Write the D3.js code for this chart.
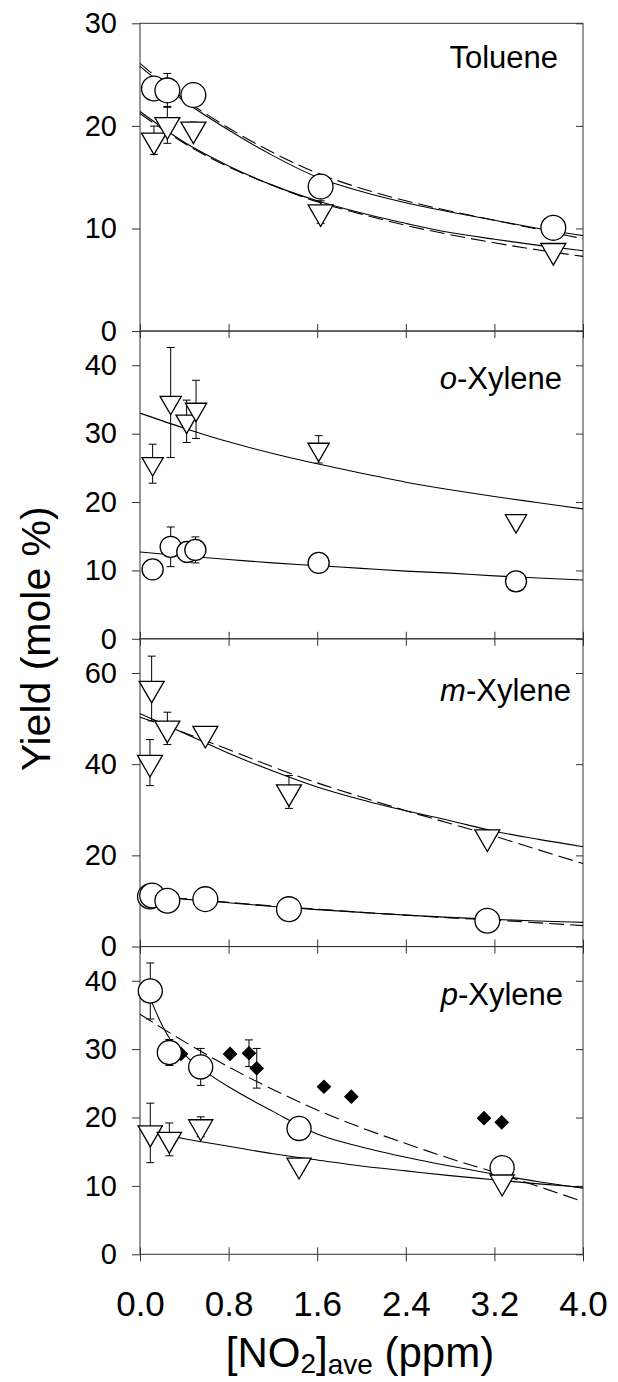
<!DOCTYPE html>
<html>
<head>
<meta charset="utf-8">
<script src="https://cdn.jsdelivr.net/npm/d3@7"></script>
<style>
body { margin: 0; background: #fff; }
text { font-family: "Liberation Sans", Arial, sans-serif; fill: #000; }
</style>
</head>
<body>
<div id="wrapper"></div>
<script>
// ---- data ----
const xTickValues = [0, 0.8, 1.6, 2.4, 3.2, 4.0];
const panelItalic = ['', 'o', 'm', 'p'];
const panelRest = ['Toluene', '-Xylene', '-Xylene', '-Xylene'];
const panelYMax = [30, 45, 67.5, 45];
const panelYTicks = [[0, 10, 20, 30], [0, 10, 20, 30, 40], [0, 20, 40, 60], [0, 10, 20, 30, 40]];
const fitX = [0, 0.4, 0.8, 1.2, 1.6, 2.0, 2.4, 2.8, 3.2, 3.6, 4.0];

// Toluene
const tolCircX = [0.126, 0.247, 0.482, 1.631, 3.732];
const tolCircY = [23.65, 23.46, 23.0, 14.08, 10.06];
const tolCircErr = [0, 1.65, 0, 0, 0];
const tolTriX = [0.126, 0.247, 0.482, 1.631, 3.732];
const tolTriY = [18.6, 20.1, 19.67, 11.6, 7.83];
const tolTriErr = [1.38, 1.8, 0.7, 1.1, 0];
const tolCircFit = [25.8, 22.4, 19.6, 17.1, 15.0, 13.6, 12.5, 11.6, 10.8, 10.0, 9.3];
const tolCircFitDash = [26.1, 22.6, 19.8, 17.4, 15.4, 13.9, 12.7, 11.7, 10.8, 9.9, 9.0];
const tolTriFit = [21.4, 18.4, 16.1, 14.2, 12.7, 11.5, 10.5, 9.6, 8.95, 8.35, 7.83];
const tolTriFitDash = [21.2, 18.3, 16.0, 14.2, 12.6, 11.4, 10.3, 9.4, 8.6, 7.9, 7.28];

// o-Xylene
const oxyCircX = [0.114, 0.277, 0.427, 0.5, 1.613, 3.395];
const oxyCircY = [10.15, 13.45, 12.7, 13.0, 11.1, 8.4];
const oxyCircErr = [0, 2.9, 1.5, 1.9, 0, 0];
const oxyTriX = [0.114, 0.277, 0.421, 0.506, 1.613, 3.395];
const oxyTriY = [25.6, 34.55, 31.8, 33.55, 27.7, 17.25];
const oxyTriErr = [2.85, 8.05, 3.1, 4.25, 2.0, 0];
const oxyTriFit = [33.0, 30.8, 28.8, 27.1, 25.6, 24.2, 22.9, 21.8, 20.8, 19.9, 19.0];
const oxyCircFit = [12.7, 12.1, 11.6, 11.1, 10.7, 10.3, 9.9, 9.6, 9.2, 8.9, 8.6];

// m-Xylene
const mxyCircX = [0.09, 0.11, 0.247, 0.59, 1.345, 3.136];
const mxyCircY = [11.0, 11.2, 10.05, 10.4, 8.2, 5.65];
const mxyCircErr = [0, 0, 0, 0, 0, 0];
const mxyTriX = [0.105, 0.09, 0.247, 0.59, 1.345, 3.136];
const mxyTriY = [56.6, 40.35, 47.85, 46.7, 33.9, 24.0];
const mxyTriErr = [7.1, 5.05, 3.55, 0, 3.6, 0];
const mxyTriFit = [51.1, 46.8, 42.4, 38.5, 35.0, 32.2, 29.8, 27.6, 25.3, 23.5, 21.9];
const mxyTriFitDash = [50.3, 46.9, 43.2, 39.4, 35.9, 32.8, 29.8, 27.0, 24.2, 21.2, 18.2];
const mxyCircFitX = [0.1, 0.4, 0.8, 1.2, 1.6, 2.0, 2.4, 2.8, 3.2, 3.6, 4.0];
const mxyCircFit = [11.0, 10.4, 9.6, 8.8, 8.1, 7.5, 6.9, 6.4, 5.95, 5.6, 5.3];
const mxyCircFitDash = [11.1, 10.5, 9.7, 8.9, 8.2, 7.5, 6.9, 6.3, 5.8, 5.2, 4.6];

// p-Xylene
const pxyCircX = [0.093, 0.265, 0.548, 1.436, 3.27];
const pxyCircY = [38.5, 29.5, 27.4, 18.4, 12.67];
const pxyCircErr = [4.1, 1.9, 2.7, 0, 0];
const pxyTriX = [0.093, 0.265, 0.548, 1.436, 3.27];
const pxyTriY = [17.75, 16.8, 18.65, 13.05, 10.57];
const pxyTriErr = [4.35, 2.4, 1.45, 0, 0];
const pxyDiaX = [0.37, 0.813, 0.984, 1.054, 1.661, 1.908, 3.106, 3.266];
const pxyDiaY = [29.3, 29.3, 29.4, 27.2, 24.5, 23.05, 19.9, 19.3];
const pxyDiaErr = [0, 0, 1.95, 2.9, 0, 0, 0, 0];
const pxyCircFitX = [0.09, 0.2, 0.3, 0.4, 0.6, 0.8, 1.2, 1.6, 2.0, 2.4, 2.8, 3.2, 3.6, 4.0];
const pxyCircFit = [37.5, 33.5, 30.8, 29.2, 26.6, 24.5, 20.9, 17.6, 15.7, 14.2, 12.9, 11.7, 10.6, 9.65];
const pxyCircFitDash = [35.1, 31.1, 27.4, 24.1, 21.1, 18.5, 16.2, 14.0, 12.0, 9.9, 7.7];
const pxyTriFitX = [0.09, 0.4, 0.8, 1.2, 1.6, 2.0, 2.4, 2.8, 3.2, 3.6, 4.0];
const pxyTriFit = [17.9, 16.9, 15.8, 14.7, 13.8, 12.9, 12.2, 11.5, 10.9, 10.3, 9.8];

// build a table per panel
const series = (x, y, err) => d3.range(x.length).map(i => ({x: x[i], y: y[i], e: err[i]}));
const panels = [
  {circles: series(tolCircX, tolCircY, tolCircErr), tris: series(tolTriX, tolTriY, tolTriErr), dias: [],
   fits: [[fitX, tolCircFit, false], [fitX, tolCircFitDash, true], [fitX, tolTriFit, false], [fitX, tolTriFitDash, true]]},
  {circles: series(oxyCircX, oxyCircY, oxyCircErr), tris: series(oxyTriX, oxyTriY, oxyTriErr), dias: [],
   fits: [[fitX, oxyTriFit, false], [fitX, oxyCircFit, false]]},
  {circles: series(mxyCircX, mxyCircY, mxyCircErr), tris: series(mxyTriX, mxyTriY, mxyTriErr), dias: [],
   fits: [[fitX, mxyTriFit, false], [fitX, mxyTriFitDash, true], [mxyCircFitX, mxyCircFit, false], [mxyCircFitX, mxyCircFitDash, true]]},
  {circles: series(pxyCircX, pxyCircY, pxyCircErr), tris: series(pxyTriX, pxyTriY, pxyTriErr), dias: series(pxyDiaX, pxyDiaY, pxyDiaErr),
   fits: [[pxyCircFitX, pxyCircFit, false], [fitX, pxyCircFitDash, true], [pxyTriFitX, pxyTriFit, false]]}
];

// ---- layout ----
const width = 618, height = 1382;
const plot = {left: 140, right: 583, top: 23.3, bottom: 1254.3};
const panelH = (plot.bottom - plot.top) / 4;
const markerScale = [1, 0.85, 1, 0.97];
const labelPos = [[558, 68], [562, 389], [571, 701], [563, 1005]];

const svg = d3.select('#wrapper').append('svg')
  .attr('width', width).attr('height', height);

const xScale = d3.scaleLinear().domain([0, 4]).range([plot.left, plot.right]);
const axisColor = '#333';

panels.forEach((p, i) => {
  const top = plot.top + i * panelH, bottom = top + panelH;
  const yScale = d3.scaleLinear().domain([0, panelYMax[i]]).range([bottom, top]);
  const g = svg.append('g');
  const ms = markerScale[i];

  // frame
  g.append('rect').attr('x', plot.left).attr('y', top)
    .attr('width', plot.right - plot.left).attr('height', panelH)
    .attr('fill', 'none').attr('stroke', axisColor).attr('stroke-width', 1);

  // left axis (outside ticks + labels)
  const yAxis = g.append('g').attr('transform', `translate(${plot.left},0)`)
    .call(d3.axisLeft(yScale).tickValues(panelYTicks[i]).tickSize(8).tickPadding(15).tickSizeOuter(0));
  yAxis.select('.domain').remove();
  yAxis.selectAll('.tick line').attr('stroke', axisColor);
  yAxis.selectAll('text').attr('font-size', 29).attr('font-family', '"Liberation Sans", Arial, sans-serif');

  // right axis (inside ticks)
  const yAxisR = g.append('g').attr('transform', `translate(${plot.right},0)`)
    .call(d3.axisRight(yScale).tickValues(panelYTicks[i]).tickSize(-7).tickSizeOuter(0).tickFormat(''));
  yAxisR.select('.domain').remove();
  yAxisR.selectAll('.tick line').attr('stroke', axisColor);

  // bottom axis, ticks crossing the line
  const xAxis = g.append('g').attr('transform', `translate(0,${bottom})`)
    .call(d3.axisBottom(xScale).tickValues(xTickValues).tickSize(7).tickPadding(30).tickSizeOuter(0)
      .tickFormat(i === 3 ? d3.format('.1f') : ''));
  xAxis.select('.domain').remove();
  xAxis.selectAll('.tick line').attr('y1', -7).attr('stroke', axisColor);
  xAxis.selectAll('text').attr('font-size', 35).attr('font-family', '"Liberation Sans", Arial, sans-serif');

  // fitted curves
  const line = d3.line().x(d => xScale(d[0])).y(d => yScale(d[1])).curve(d3.curveMonotoneX);
  p.fits.forEach(([fx, fy, dash]) => {
    g.append('path').datum(d3.zip(fx, fy)).attr('d', line)
      .attr('fill', 'none').attr('stroke', '#000').attr('stroke-width', 1.1)
      .attr('stroke-dasharray', dash ? '15,6' : null);
  });

  // error bars
  const capW = 4;
  const errs = [...p.dias, ...p.circles, ...p.tris].filter(d => d.e > 0);
  const eb = g.append('g').attr('stroke', '#000').attr('stroke-width', 1).attr('fill', 'none');
  errs.forEach(d => {
    const cx = xScale(d.x), y1 = yScale(d.y + d.e), y2 = yScale(d.y - d.e);
    eb.append('line').attr('x1', cx).attr('x2', cx).attr('y1', y1).attr('y2', y2);
    eb.append('line').attr('x1', cx - capW).attr('x2', cx + capW).attr('y1', y1).attr('y2', y1);
    eb.append('line').attr('x1', cx - capW).attr('x2', cx + capW).attr('y1', y2).attr('y2', y2);
  });

  // markers
  g.selectAll('.dia').data(p.dias).join('path').attr('class', 'dia')
    .attr('d', d3.symbol().type(d3.symbolSquare).size(88))
    .attr('transform', d => `translate(${xScale(d.x)},${yScale(d.y)}) rotate(45)`)
    .attr('fill', '#000').attr('stroke', '#000');
  g.selectAll('.circ').data(p.circles).join('path').attr('class', 'circ')
    .attr('d', d3.symbol().type(d3.symbolCircle).size(Math.PI * Math.pow(12.4 * ms, 2)))
    .attr('transform', d => `translate(${xScale(d.x)},${yScale(d.y)})`)
    .attr('fill', '#fff').attr('stroke', '#000').attr('stroke-width', 1.3);
  g.selectAll('.tri').data(p.tris).join('path').attr('class', 'tri')
    .attr('d', d3.symbol().type(d3.symbolTriangle).size(270 * ms * ms))
    .attr('transform', d => `translate(${xScale(d.x)},${yScale(d.y)}) rotate(180)`)
    .attr('fill', '#fff').attr('stroke', '#000').attr('stroke-width', 1.3);

  // compound label
  const lab = g.append('text').attr('x', labelPos[i][0]).attr('y', labelPos[i][1])
    .attr('text-anchor', 'end').attr('font-size', 31);
  if (panelItalic[i]) lab.append('tspan').attr('font-style', 'italic').text(panelItalic[i]);
  lab.append('tspan').text(panelRest[i]);
});

// axis titles
svg.append('text').attr('transform', `translate(50,${(plot.top + plot.bottom) / 2}) rotate(-90)`)
  .attr('text-anchor', 'middle').attr('font-size', 41).text('Yield (mole %)');

const xt = svg.append('text').attr('x', 360).attr('y', 1367)
  .attr('text-anchor', 'middle').attr('font-size', 42);
xt.append('tspan').text('[NO');
xt.append('tspan').attr('dy', 6).attr('font-size', 28).text('2');
xt.append('tspan').attr('dy', -6).text(']');
xt.append('tspan').attr('dy', 7).attr('font-size', 28).text('ave');
xt.append('tspan').attr('dy', -7).text(' (ppm)');
</script>
</body>
</html>
